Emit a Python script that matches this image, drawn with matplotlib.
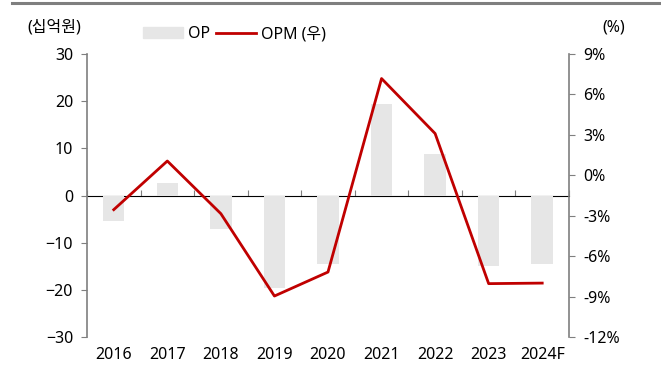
import numpy as np
import matplotlib.pyplot as plt
from matplotlib.lines import Line2D

plt.rcParams['font.family'] = ['Noto Sans', 'Noto Sans CJK KR', 'DejaVu Sans']

years = ['2016', '2017', '2018', '2019', '2020', '2021', '2022', '2023', '2024F']
op = [-5.5, 2.7, -7.2, -19.7, -14.5, 19.4, 8.9, -15.0, -14.6]      # 십억원
opm = [-2.55, 1.06, -2.85, -8.96, -7.18, 7.18, 3.1, -8.04, -8.0]   # %

x = np.arange(len(years))
grey = '#7f7f7f'
fs = 11.5

fig = plt.figure(figsize=(6.61, 3.72), dpi=100)
ax = fig.add_axes([0.1316, 0.0941, 0.7292, 0.7607])

ax.bar(x, op, width=0.4, color='#e6e6e6', zorder=1)
ax.set_xlim(-0.5, 8.5)
ax.set_ylim(-30, 30)
ax.set_yticks([-30, -20, -10, 0, 10, 20, 30])

for s in ['top', 'right', 'bottom']:
    ax.spines[s].set_visible(False)
ax.spines['left'].set_color(grey)
ax.spines['left'].set_linewidth(1.2)
ax.tick_params(axis='y', direction='out', length=4, color=grey, labelsize=fs, pad=6)
ax.set_xticks(x)
ax.set_xticklabels(years)
ax.tick_params(axis='x', length=0, labelsize=fs, pad=7)

# zero line with category-boundary ticks
zx = ax.secondary_xaxis(0.5)
zx.set_xticks(np.arange(-0.5, 9, 1))
zx.set_xticklabels([])
zx.tick_params(direction='out', length=4, color=grey)
zx.spines['bottom'].set_color(grey)
zx.spines['bottom'].set_linewidth(1.5)

ax2 = ax.twinx()
ax2.plot(x, opm, color='#c00000', lw=2, zorder=3)
ax2.set_ylim(-12, 9)
ax2.set_yticks([-12, -9, -6, -3, 0, 3, 6, 9])
ax2.set_yticklabels([f'{v}%' for v in [-12, -9, -6, -3, 0, 3, 6, 9]])
for s in ['top', 'left', 'bottom']:
    ax2.spines[s].set_visible(False)
ax2.spines['right'].set_color(grey)
ax2.spines['right'].set_linewidth(1.2)
ax2.tick_params(axis='y', direction='out', length=4, color=grey, labelsize=fs, pad=6)

fig.text(0.041, 0.927, '(십억원)', fontsize=fs, ha='left', va='center')
fig.text(0.945, 0.927, '(%)', fontsize=fs, ha='right', va='center')

handles = [plt.Rectangle((0, 0), 1, 1, color='#e6e6e6'),
           Line2D([], [], color='#c00000', lw=2)]
fig.legend(handles, ['OP', 'OPM (우)'], loc='center', bbox_to_anchor=(0.355, 0.908),
           ncol=2, frameon=False, fontsize=fs, handlelength=2.5, handleheight=0.7,
           handletextpad=0.3, columnspacing=0.4)

fig.add_artist(Line2D([0.018, 1.0], [0.991, 0.991], color=grey, lw=2.2, transform=fig.transFigure))

fig.savefig('out.png', dpi=100)
